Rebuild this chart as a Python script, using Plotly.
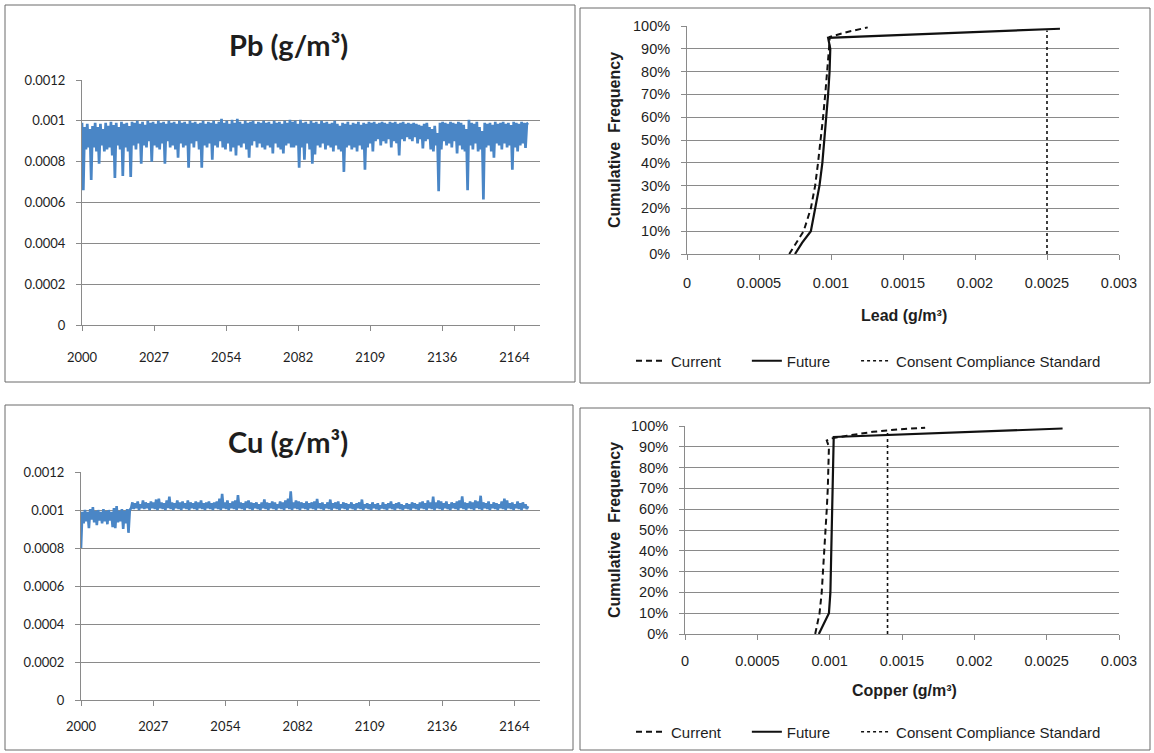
import numpy as np
import plotly.graph_objects as go

# ---------------- data ----------------
# Time-series concentrations in ug/m3 (0.001 g/m3 = 1000 ug/m3), two readings per year from 2000
pb_ug_m3 = [
    990, 660, 970, 860, 985, 870, 960, 710, 975, 870, 990, 850, 970, 790, 985, 880, 960, 850, 990, 860,
    975, 870, 995, 830, 980, 720, 990, 880, 970, 860, 995, 730, 985, 870, 990, 850, 975, 725, 995, 880,
    990, 860, 1000, 890, 985, 790, 995, 880, 980, 870, 1000, 900, 990, 800, 995, 880, 985, 870, 1000, 860,
    990, 890, 995, 790, 985, 900, 1000, 870, 990, 880, 995, 860, 985, 820, 1000, 890, 990, 870, 995, 880,
    985, 770, 1000, 890, 990, 870, 995, 900, 985, 860, 990, 770, 1000, 880, 985, 870, 995, 890, 990, 810,
    1000, 880, 985, 870, 995, 900, 1010, 870, 990, 860, 1000, 890, 985, 850, 1005, 870, 990, 830, 1010, 880,
    995, 870, 985, 890, 1000, 860, 990, 820, 995, 880, 1000, 900, 985, 870, 995, 890, 990, 870, 1000, 860,
    990, 880, 995, 870, 985, 840, 1000, 890, 990, 870, 995, 860, 985, 840, 1000, 880, 990, 890, 1005, 870,
    995, 870, 1000, 880, 985, 770, 1005, 870, 990, 810, 995, 890, 985, 860, 1000, 790, 990, 835, 995, 880,
    985, 870, 1000, 890, 990, 860, 995, 880, 985, 870, 990, 850, 1000, 880, 985, 860, 975, 850, 990, 750,
    985, 870, 995, 880, 980, 860, 990, 870, 985, 850, 995, 880, 980, 860, 990, 760, 985, 870, 995, 890,
    990, 850, 995, 900, 985, 910, 990, 880, 995, 900, 990, 890, 985, 910, 995, 870, 990, 900, 995, 890,
    985, 830, 990, 910, 995, 900, 985, 920, 990, 910, 985, 900, 990, 920, 985, 890, 980, 910, 975, 865,
    985, 900, 990, 910, 970, 860, 960, 850, 975, 880, 940, 655, 990, 860, 995, 900, 990, 880, 985, 890,
    995, 870, 990, 900, 985, 840, 995, 880, 990, 860, 980, 850, 960, 660, 1005, 880, 990, 860, 985, 890,
    995, 850, 970, 860, 950, 615, 990, 870, 985, 880, 990, 850, 980, 820, 995, 890, 985, 880, 990, 860,
    995, 890, 985, 870, 990, 880, 980, 760, 995, 870, 990, 850, 985, 880, 995, 890, 990, 867, 985, 990,
]

cu_ug_m3 = [
    800, 990, 930, 1000, 940, 990, 905, 1005, 950, 1015, 935, 995, 920, 1000, 945, 990, 930, 1005, 940, 995,
    925, 1000, 945, 990, 910, 1010, 905, 1020, 935, 995, 940, 1005, 900, 995, 930, 1005, 880, 1000, 1010, 1040,
    1005, 1035, 1010, 1045, 1000, 1030, 1010, 1050, 1005, 1040, 1010, 1035, 1000, 1045, 1010, 1040, 1005, 1055, 1000, 1060,
    1010, 1040, 1005, 1035, 1000, 1050, 1010, 1070, 1005, 1040, 1000, 1035, 1010, 1050, 1005, 1040, 1000, 1045, 1010, 1035,
    1005, 1050, 1000, 1040, 1010, 1035, 1005, 1045, 1000, 1040, 1010, 1050, 1005, 1035, 1000, 1040, 1010, 1045, 1005, 1035,
    1000, 1040, 1010, 1045, 1005, 1060, 1000, 1085, 1010, 1040, 1005, 1050, 1000, 1035, 1010, 1045, 1005, 1050, 1000, 1078,
    1010, 1040, 1005, 1035, 1000, 1045, 1010, 1050, 1005, 1040, 1000, 1035, 1010, 1040, 1005, 1030, 1000, 1040, 1010, 1055,
    1005, 1040, 1000, 1035, 1010, 1045, 1005, 1040, 1000, 1030, 1010, 1045, 1005, 1040, 1000, 1050, 1010, 1060, 1005, 1098,
    1000, 1040, 1010, 1050, 1005, 1045, 1000, 1040, 1010, 1035, 1005, 1045, 1000, 1035, 1010, 1040, 1005, 1045, 1000, 1058,
    1010, 1035, 1005, 1040, 1000, 1030, 1010, 1040, 1005, 1055, 1000, 1035, 1010, 1040, 1005, 1045, 1000, 1030, 1010, 1040,
    1005, 1035, 1000, 1030, 1010, 1040, 1005, 1030, 1000, 1035, 1010, 1040, 1005, 1055, 1000, 1030, 1010, 1035, 1005, 1030,
    1000, 1040, 1010, 1030, 1005, 1035, 1000, 1025, 1010, 1040, 1005, 1030, 1000, 1035, 1010, 1045, 1005, 1030, 1000, 1035,
    1010, 1040, 1005, 1030, 1000, 1025, 1010, 1035, 1005, 1030, 1000, 1040, 1010, 1035, 1005, 1030, 1000, 1040, 1010, 1045,
    1005, 1035, 1000, 1050, 1010, 1040, 1005, 1070, 1000, 1040, 1010, 1050, 1005, 1045, 1000, 1035, 1010, 1045, 1005, 1030,
    1000, 1040, 1010, 1035, 1005, 1045, 1000, 1050, 1010, 1072, 1005, 1040, 1000, 1035, 1010, 1045, 1005, 1040, 1000, 1050,
    1010, 1045, 1005, 1075, 1000, 1040, 1010, 1035, 1005, 1045, 1000, 1030, 1010, 1040, 1005, 1035, 1000, 1030, 1010, 1045,
    1005, 1060, 1000, 1050, 1010, 1035, 1005, 1040, 1000, 1030, 1010, 1045, 1005, 1035, 1000, 1040, 1010, 1030, 1005, 1020,
]

time_tick_labels = ["2000", "2027", "2054", "2082", "2109", "2136", "2164"]
conc_tick_labels = ["0", "0.0002", "0.0004", "0.0006", "0.0008", "0.001", "0.0012"]

# Cumulative frequency curves (concentration g/m3 vs cumulative fraction)
lead_current_x = [0.00071, 0.00076, 0.00081, 0.00086, 0.00089, 0.00091, 0.00093, 0.000945, 0.00096, 0.000975, 0.00099, 0.00099, 0.00099, 0.00112, 0.001255]
lead_current_cf = [0.0, 0.05, 0.10, 0.20, 0.30, 0.40, 0.50, 0.60, 0.70, 0.80, 0.90, 0.93, 0.952, 0.975, 0.994]
lead_future_x = [0.00075, 0.00080, 0.00086, 0.00089, 0.00092, 0.00094, 0.000955, 0.00097, 0.00098, 0.00099, 0.000995, 0.00098, 0.00259]
lead_future_cf = [0.0, 0.05, 0.10, 0.20, 0.30, 0.40, 0.50, 0.60, 0.70, 0.80, 0.90, 0.948, 0.988]
lead_standard_x = [0.0025, 0.0025]
lead_standard_cf = [0.0, 0.98]

copper_current_x = [0.00090, 0.00093, 0.000945, 0.000955, 0.000963, 0.00097, 0.00098, 0.000987, 0.000992, 0.000995, 0.00098, 0.00101, 0.00112, 0.00130, 0.00148, 0.00166]
copper_current_cf = [0.0, 0.10, 0.20, 0.30, 0.40, 0.50, 0.60, 0.70, 0.80, 0.90, 0.93, 0.94, 0.953, 0.972, 0.984, 0.992]
copper_future_x = [0.000925, 0.00096, 0.000995, 0.001005, 0.001008, 0.00101, 0.001013, 0.001015, 0.001018, 0.00102, 0.001023, 0.001028, 0.00261]
copper_future_cf = [0.0, 0.05, 0.10, 0.20, 0.30, 0.40, 0.50, 0.60, 0.70, 0.80, 0.90, 0.947, 0.988]
copper_standard_x = [0.0014, 0.0014]
copper_standard_cf = [0.0, 0.98]

cf_x_tick_labels = ["0", "0.0005", "0.001", "0.0015", "0.002", "0.0025", "0.003"]
series_names = ["Current", "Future", "Consent Compliance Standard"]

# ---------------- helpers ----------------
W, H = 1154, 753
def px(x):
    return x / W
def py(y):
    return 1 - y / H

pb_years = 2000 + 0.5 * np.arange(len(pb_ug_m3))
cu_years = 2000 + 0.5 * np.arange(len(cu_ug_m3))
pb_vals = np.array(pb_ug_m3) / 1e6
cu_vals = np.array(cu_ug_m3) / 1e6
time_tick_pos = [2000 + k * 10000 / 365.25 for k in range(len(time_tick_labels))]
conc_tick_pos = [float(s) for s in conc_tick_labels]
cf_x_tick_pos = [float(s) for s in cf_x_tick_labels]

BLUE = "#4a86c6"
GRID = "#8a8a8a"
TXT = "#1e1e1e"
TS_FONT = "Lato"
CF_FONT = "Liberation Sans"
NB = "\u00a0"
# non-breaking padding widens the legend entries to match the original spacing
legend_labels = [series_names[0] + NB * 5, series_names[1] + NB * 5, series_names[2]]

fig = go.Figure()

fig.add_trace(go.Scatter(x=pb_years, y=pb_vals, mode="lines", line=dict(color=BLUE, width=2.7),
                         xaxis="x", yaxis="y", showlegend=False))
fig.add_trace(go.Scatter(x=cu_years, y=cu_vals, mode="lines", line=dict(color=BLUE, width=2.6),
                         xaxis="x3", yaxis="y3", showlegend=False))

def cf_traces(xa, ya, leg, cx, ccf, fx, fcf, sx, scf):
    fig.add_trace(go.Scatter(x=cx, y=ccf, mode="lines", name=legend_labels[0],
                             line=dict(color="#111111", width=2, dash="6px,4px"),
                             xaxis=xa, yaxis=ya, legend=leg))
    fig.add_trace(go.Scatter(x=fx, y=fcf, mode="lines", name=legend_labels[1],
                             line=dict(color="#111111", width=2.2),
                             xaxis=xa, yaxis=ya, legend=leg))
    fig.add_trace(go.Scatter(x=sx, y=scf, mode="lines", name=legend_labels[2],
                             line=dict(color="#111111", width=1.6, dash="dot"),
                             xaxis=xa, yaxis=ya, legend=leg))

cf_traces("x2", "y2", "legend", lead_current_x, lead_current_cf, lead_future_x, lead_future_cf,
          lead_standard_x, lead_standard_cf)
cf_traces("x4", "y4", "legend2", copper_current_x, copper_current_cf, copper_future_x, copper_future_cf,
          copper_standard_x, copper_standard_cf)

def ts_axes(dx, dy, xstand):
    xa = dict(domain=dx, range=[2000, 2174], tickvals=time_tick_pos, ticktext=time_tick_labels,
              showgrid=False, zeroline=False, showline=True, linecolor=GRID, linewidth=1,
              ticks="outside", ticklen=5, tickcolor=GRID, automargin=False, ticklabelstandoff=xstand,
              tickfont=dict(family=TS_FONT, size=13, color=TXT), fixedrange=True)
    ya = dict(domain=dy, range=[0, 0.0012], tickvals=conc_tick_pos, ticktext=conc_tick_labels,
              showgrid=True, gridcolor=GRID, gridwidth=1, zeroline=False, showline=True,
              linecolor=GRID, linewidth=1, ticks="outside", ticklen=5, tickcolor=GRID, automargin=False,
              ticklabelstandoff=8, tickfont=dict(family=TS_FONT, size=13, color=TXT), fixedrange=True)
    return xa, ya

def cf_axes(dx, dy, xstand):
    xa = dict(domain=dx, range=[0, 0.003], tickvals=cf_x_tick_pos, ticktext=cf_x_tick_labels,
              showgrid=False, zeroline=False, showline=True, linecolor=GRID, linewidth=1,
              ticks="outside", ticklen=5, tickcolor=GRID, automargin=False, ticklabelstandoff=xstand,
              tickfont=dict(family=CF_FONT, size=14.5, color=TXT), fixedrange=True)
    ya = dict(domain=dy, range=[0, 1], dtick=0.1, tickformat=".0%",
              showgrid=True, gridcolor=GRID, gridwidth=1, zeroline=False, showline=True,
              linecolor=GRID, linewidth=1, ticks="outside", ticklen=5, tickcolor=GRID, automargin=False,
              ticklabelstandoff=8, tickfont=dict(family=CF_FONT, size=14.5, color=TXT), fixedrange=True)
    return xa, ya

x1, y1 = ts_axes([px(82), px(540)], [py(325), py(80)], 15)
x3, y3 = ts_axes([px(81), px(540)], [py(700), py(472)], 9)
x2, y2 = cf_axes([px(687), px(1119)], [py(254), py(26)], 11)
x4, y4 = cf_axes([px(685), px(1119)], [py(634), py(426)], 9)
y1["anchor"] = "x"; x1["anchor"] = "y"
y2["anchor"] = "x2"; x2["anchor"] = "y2"
y3["anchor"] = "x3"; x3["anchor"] = "y3"
y4["anchor"] = "x4"; x4["anchor"] = "y4"

shapes = []
for (l, t, r, b) in [(5, 5, 575, 382), (580, 8, 1150, 383), (5, 405, 573, 750), (580, 408, 1150, 750)]:
    shapes.append(dict(type="rect", xref="paper", yref="paper", x0=px(l), x1=px(r), y0=py(b), y1=py(t),
                       line=dict(color="#6a6a6a", width=1), fillcolor="rgba(0,0,0,0)", layer="below"))

annotations = [
    dict(text="<b>Pb (g/m³)</b>", x=px(288), y=py(45), xref="paper", yref="paper", showarrow=False,
         font=dict(family=TS_FONT, size=29, color=TXT), xanchor="center", yanchor="middle"),
    dict(text="<b>Cu (g/m³)</b>", x=px(288), y=py(441), xref="paper", yref="paper", showarrow=False,
         font=dict(family=TS_FONT, size=29, color=TXT), xanchor="center", yanchor="middle"),
    dict(text="<b>Lead (g/m³)</b>", x=px(904), y=py(315), xref="paper", yref="paper", showarrow=False,
         font=dict(family=CF_FONT, size=16, color=TXT), xanchor="center", yanchor="middle"),
    dict(text="<b>Copper (g/m³)</b>", x=px(904), y=py(690), xref="paper", yref="paper", showarrow=False,
         font=dict(family=CF_FONT, size=16, color=TXT), xanchor="center", yanchor="middle"),
    dict(text="<b>Cumulative  Frequency</b>", x=px(614), y=py(140), xref="paper", yref="paper",
         showarrow=False, textangle=-90, font=dict(family=CF_FONT, size=16, color=TXT),
         xanchor="center", yanchor="middle"),
    dict(text="<b>Cumulative  Frequency</b>", x=px(614), y=py(530), xref="paper", yref="paper",
         showarrow=False, textangle=-90, font=dict(family=CF_FONT, size=16, color=TXT),
         xanchor="center", yanchor="middle"),
]

legend_style = dict(orientation="h", xanchor="left", yanchor="middle", bgcolor="rgba(0,0,0,0)",
                    font=dict(family=CF_FONT, size=15, color=TXT), itemwidth=30, tracegroupgap=0)

fig.update_layout(
    width=W, height=H, autosize=False,
    margin=dict(l=0, r=0, t=0, b=0, pad=0, autoexpand=False),
    paper_bgcolor="white", plot_bgcolor="white",
    xaxis=x1, yaxis=y1, xaxis2=x2, yaxis2=y2, xaxis3=x3, yaxis3=y3, xaxis4=x4, yaxis4=y4,
    shapes=shapes, annotations=annotations,
    legend=dict(x=px(631), y=py(361), **legend_style),
    legend2=dict(x=px(631), y=py(732), **legend_style),
    hovermode=False,
)

# remove the browser's default 8px page margin so the figure fills the window exactly
fig.write_html("out.html", config={"displayModeBar": False},
               post_script="document.body.style.margin='0';document.body.style.overflow='hidden';")
